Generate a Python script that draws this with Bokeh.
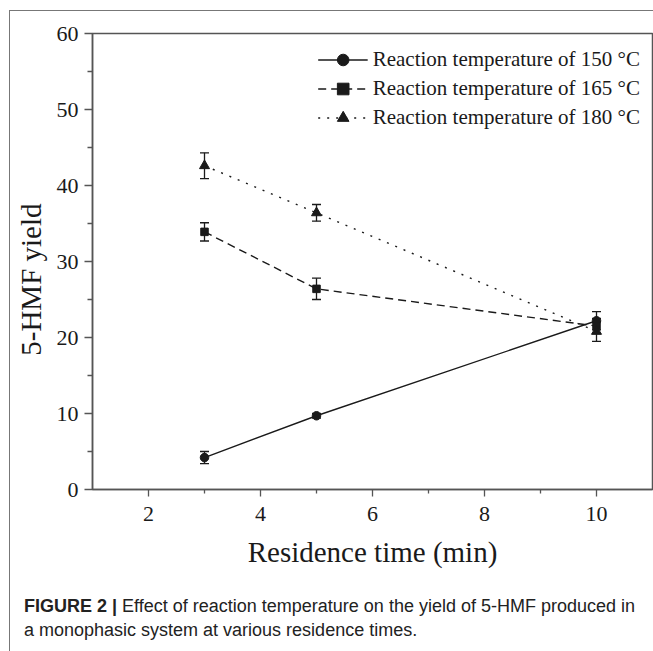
from bokeh.plotting import figure
from bokeh.layouts import column
from bokeh.models import (ColumnDataSource, Whisker, TeeHead, Legend, LegendItem,
                          Div, Range1d, FixedTicker)
from bokeh.embed import file_html
from bokeh.resources import INLINE

# ---- data ----
times = [3, 5, 10]
y150 = [4.2, 9.7, 22.2]
e150 = [0.8, 0.3, 1.2]
y165 = [33.9, 26.4, 21.5]
e165 = [1.2, 1.4, 1.0]
y180 = [42.6, 36.4, 20.8]
e180 = [1.7, 1.1, 1.3]
series_labels = ["Reaction temperature of 150 °C",
                 "Reaction temperature of 165 °C",
                 "Reaction temperature of 180 °C"]
x_ticks = [2, 4, 6, 8, 10]
x_minor = [3, 5, 7, 9]
y_ticks = [0, 10, 20, 30, 40, 50, 60]
y_minor = [5, 15, 25, 35, 45, 55]
x_title = "Residence time (min)"
y_title = "5-HMF yield"
cap_bold = "FIGURE 2 |"
cap_line1 = "Effect of reaction temperature on the yield of 5-HMF produced in"
cap_line2 = "a monophasic system at various residence times."

SERIF = "Liberation Serif"
INK = "#1a1a1a"
AX = "#555555"
W = 643

p = figure(width=W, height=579, output_backend="svg", toolbar_location=None,
           x_range=Range1d(1, 11), y_range=Range1d(0, 60),
           min_border_left=82, min_border_right=1, min_border_top=22,
           min_border_bottom=101)
p.xgrid.visible = False
p.ygrid.visible = False
p.outline_line_color = AX
p.outline_line_width = 1.5
p.background_fill_color = "white"
p.border_fill_color = "white"

for ax in (p.xaxis[0], p.yaxis[0]):
    ax.axis_line_color = AX
    ax.axis_line_width = 1.5
    ax.major_tick_line_color = AX
    ax.minor_tick_line_color = AX
    ax.major_tick_line_width = 1.3
    ax.minor_tick_line_width = 1.3
    ax.major_tick_in = 0
    ax.minor_tick_in = 0
    ax.major_label_text_font = SERIF
    ax.major_label_text_font_size = "22px"
    ax.major_label_text_color = INK
    ax.axis_label_text_font = SERIF
    ax.axis_label_text_font_style = "normal"
    ax.axis_label_text_color = INK

p.xaxis.major_tick_out = 7
p.xaxis.minor_tick_out = 4
p.yaxis.major_tick_out = 8
p.yaxis.minor_tick_out = 5
p.xaxis.ticker = FixedTicker(ticks=x_ticks, minor_ticks=x_minor)
p.yaxis.ticker = FixedTicker(ticks=y_ticks, minor_ticks=y_minor)
p.xaxis.axis_label = x_title
p.yaxis.axis_label = y_title + "\u00a0" * 5
p.xaxis.axis_label_text_font_size = "29px"
p.yaxis.axis_label_text_font_size = "29px"
p.xaxis.major_label_standoff = 10
p.yaxis.major_label_standoff = 6
p.xaxis.axis_label_standoff = 12
p.yaxis.axis_label_standoff = 7

def add_series(ys, es, marker, dash, size):
    src = ColumnDataSource(dict(x=times, y=ys,
                                lo=[a - b for a, b in zip(ys, es)],
                                hi=[a + b for a, b in zip(ys, es)]))
    ln = p.line("x", "y", source=src, line_color=INK, line_width=1.4, line_dash=dash)
    w = Whisker(base="x", lower="lo", upper="hi", source=src, dimension="height",
                line_color=INK, line_width=1.3,
                upper_head=TeeHead(size=9, line_color=INK, line_width=1.3),
                lower_head=TeeHead(size=9, line_color=INK, line_width=1.3))
    p.add_layout(w)
    sc = p.scatter("x", "y", source=src, marker=marker, size=size,
                   fill_color=INK, line_color=INK)
    return [ln, sc]

r1 = add_series(y150, e150, "circle", "solid", 8.5)
r2 = add_series(y165, e165, "square", "8 5", 7.5)
r3 = add_series(y180, e180, "triangle", "2 7", 10)

legend = Legend(items=[LegendItem(label=series_labels[0], renderers=r1),
                       LegendItem(label=series_labels[1], renderers=r2),
                       LegendItem(label=series_labels[2], renderers=r3)],
                location="top_right", border_line_color=None,
                background_fill_alpha=0, margin=12, padding=3, spacing=0,
                glyph_width=50, glyph_height=29, label_height=29,
                label_standoff=5, label_text_font=SERIF,
                label_text_font_size="21px", label_text_color=INK)
p.add_layout(legend)

# caption
cap_html = (
    '<div style="font-family: \'Liberation Sans\', Arial, sans-serif; font-size: 18px; '
    'line-height: 24px; color: #222222; padding: 4px 0 0 14px; white-space: nowrap;">'
    f'<b>{cap_bold}</b> {cap_line1}<br>{cap_line2}</div>'
)
cap = Div(text=cap_html, width=W, height=61, margin=0)

layout = column(p, cap, margin=(10, 0, 0, 9), spacing=0,
                styles={"border-left": "1px solid #777777",
                        "border-top": "1px solid #777777"})

open("out.html", "w").write(file_html(layout, INLINE))
